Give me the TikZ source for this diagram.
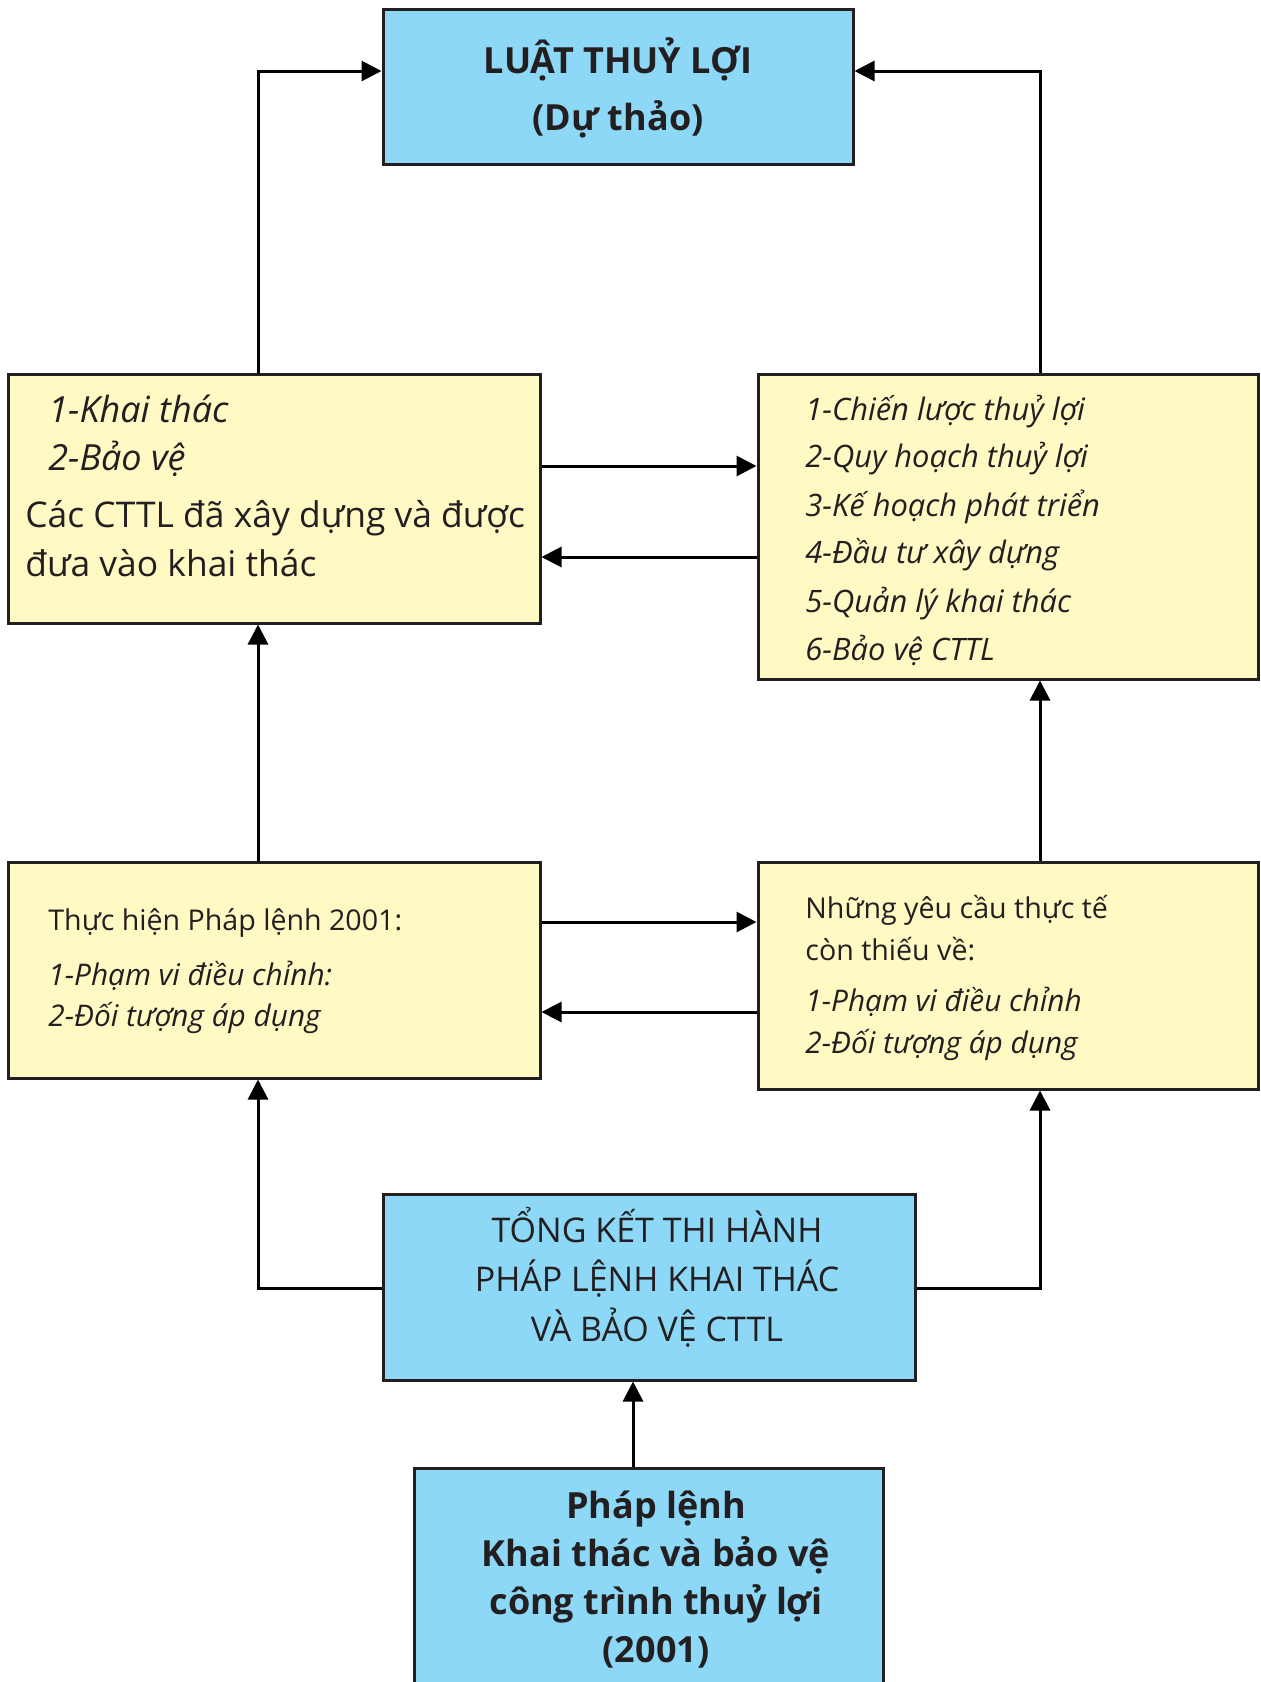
\documentclass[tikz,border=0pt]{standalone}
\usepackage{fontspec}
\setmainfont{Open Sans}
\usetikzlibrary{arrows.meta,fit}
\definecolor{blueF}{RGB}{141,216,247}
\definecolor{yelF}{RGB}{255,249,196}
\definecolor{linec}{RGB}{35,31,32}
\definecolor{textc}{RGB}{35,31,32}
\newcommand\fTop{\fontsize{18pt}{22pt}\selectfont\bfseries}
\newcommand\fLUi{\fontsize{18pt}{22pt}\selectfont\itshape}
\newcommand\fLUr{\fontsize{17.7pt}{22pt}\selectfont}
\newcommand\fRU{\fontsize{15.45pt}{19pt}\selectfont\itshape}
\newcommand\fMid{\fontsize{14.3pt}{18pt}\selectfont}
\newcommand\fMidi{\fontsize{14.9pt}{18pt}\selectfont\itshape}
\newcommand\fTK{\fontsize{17pt}{21pt}\selectfont}
\newcommand\fBot{\fontsize{18pt}{22pt}\selectfont\bfseries}
\begin{document}
\begin{tikzpicture}[x=0.5pt,y=-0.5pt,
  box/.style={draw=linec, line width=1.5pt, inner sep=0pt},
  bluebox/.style={box, fill=blueF},
  yelbox/.style={box, fill=yelF},
  arr/.style={draw=black, line width=1.5pt, -{Triangle[length=10pt,width=10pt]}},
  txt/.style={inner sep=0pt, text=textc, anchor=base west},
  ctxt/.style={inner sep=0pt, text=textc, anchor=base}]
\useasboundingbox (0,0) rectangle (1260,1682);
\fill[white] (0,0) rectangle (1260,1682);
% boxes
\node[bluebox, fit={(383,9) (853,164)}] (top) {};
\node[yelbox, fit={(8,374) (540,623)}] (lu) {};
\node[yelbox, fit={(758,374) (1258,679)}] (ru) {};
\node[yelbox, fit={(8,862) (540,1078)}] (lm) {};
\node[yelbox, fit={(758,862) (1258,1089)}] (rm) {};
\node[bluebox, fit={(383,1194) (915,1380)}] (tk) {};
\node[bluebox, fit={(414,1468) (883,1700)}] (bt) {};
% helper coordinates
\coordinate (c1) at (258,71);
\coordinate (c2) at (1040,71);
\coordinate (c3) at (633,0);
\coordinate (h1) at (0,466);
\coordinate (h2) at (0,557);
\coordinate (h3) at (0,922);
\coordinate (h4) at (0,1012);
\coordinate (h5) at (0,1288);
% connectors
\draw[arr] (lu.north -| c1) |- (top.west |- c1);
\draw[arr] (ru.north -| c2) |- (top.east |- c2);
\draw[arr] (lu.east |- h1) -- (ru.west |- h1);
\draw[arr] (ru.west |- h2) -- (lu.east |- h2);
\draw[arr] (lm.north -| c1) -- (lu.south -| c1);
\draw[arr] (rm.north -| c2) -- (ru.south -| c2);
\draw[arr] (lm.east |- h3) -- (rm.west |- h3);
\draw[arr] (rm.west |- h4) -- (lm.east |- h4);
\draw[arr] (tk.west |- h5) -| (lm.south -| c1);
\draw[arr] (tk.east |- h5) -| (rm.south -| c2);
\draw[arr] (bt.north -| c3) -- (tk.south -| c3);
% texts
\node[ctxt, font=\fTop] (t1) at (618,73) {LUẬT THUỶ LỢI};
\node[ctxt, font=\fTop] (t2) at (618,130) {(Dự thảo)};
\node[txt, font=\fLUi] (t3) at (48,422) {1-Khai thác};
\node[txt, font=\fLUi] (t4) at (48,470) {2-Bảo vệ};
\node[txt, font=\fLUr] (t5) at (25,527) {Các CTTL đã xây dựng và được};
\node[txt, font=\fLUr] (t6) at (25,576) {đưa vào khai thác};
\node[txt, font=\fRU] (t7) at (805,420) {1-Chiến lược thuỷ lợi};
\node[txt, font=\fRU] (t8) at (805,467) {2-Quy hoạch thuỷ lợi};
\node[txt, font=\fRU] (t9) at (805,516) {3-Kế hoạch phát triển};
\node[txt, font=\fRU] (t10) at (805,563) {4-Đầu tư xây dựng};
\node[txt, font=\fRU] (t11) at (805,612) {5-Quản lý khai thác};
\node[txt, font=\fRU] (t12) at (805,660) {6-Bảo vệ CTTL};
\node[txt, font=\fMid] (t13) at (48,930) {Thực hiện Pháp lệnh 2001:};
\node[txt, font=\fMidi] (t14) at (48,985) {1-Phạm vi điều chỉnh:};
\node[txt, font=\fMidi] (t15) at (48,1026) {2-Đối tượng áp dụng};
\node[txt, font=\fMid] (t16) at (805,918) {Những yêu cầu thực tế};
\node[txt, font=\fMid] (t17) at (805,960) {còn thiếu về:};
\node[txt, font=\fMidi] (t18) at (805,1011) {1-Phạm vi điều chỉnh};
\node[txt, font=\fMidi] (t19) at (805,1053) {2-Đối tượng áp dụng};
\node[ctxt, font=\fTK] (t20) at (657,1242) {TỔNG KẾT THI HÀNH};
\node[ctxt, font=\fTK] (t21) at (657,1291) {PHÁP LỆNH KHAI THÁC};
\node[ctxt, font=\fTK] (t22) at (657,1341) {VÀ BẢO VỆ CTTL};
\node[ctxt, font=\fBot] (t23) at (656,1518) {Pháp lệnh};
\node[ctxt, font=\fBot] (t24) at (656,1566) {Khai thác và bảo vệ};
\node[ctxt, font=\fBot] (t25) at (656,1614) {công trình thuỷ lợi};
\node[ctxt, font=\fBot] (t26) at (656,1662) {(2001)};
\end{tikzpicture}
\end{document}
